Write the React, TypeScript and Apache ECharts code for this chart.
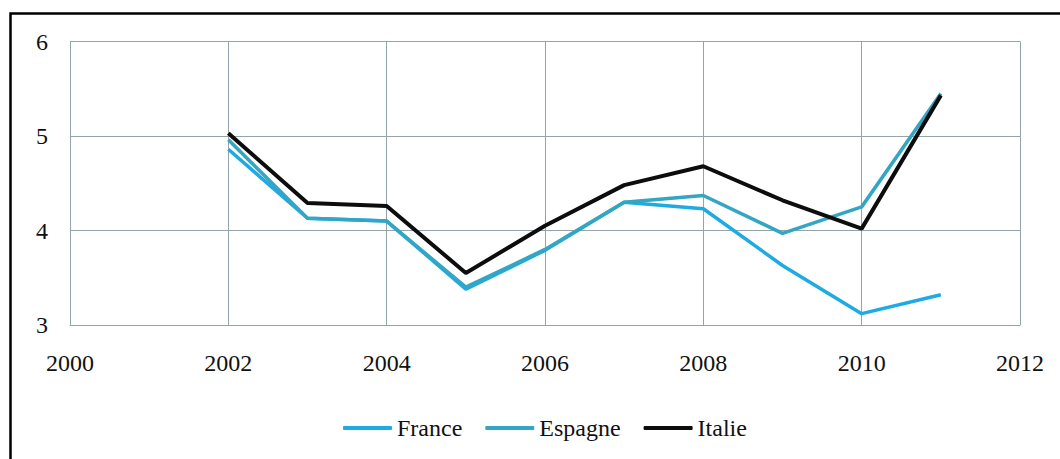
import React, { useEffect, useRef } from "react";
import * as echarts from "echarts";

const years = [2002, 2003, 2004, 2005, 2006, 2007, 2008, 2009, 2010, 2011];
const france = [4.86, 4.13, 4.1, 3.38, 3.79, 4.3, 4.23, 3.63, 3.12, 3.32];
const espagne = [4.96, 4.13, 4.1, 3.4, 3.8, 4.3, 4.37, 3.97, 4.25, 5.45];
const italie = [5.03, 4.29, 4.26, 3.55, 4.05, 4.48, 4.68, 4.32, 4.02, 5.43];
const seriesNames = ["France", "Espagne", "Italie"];
const seriesColors = ["#1eaae2", "#33a6c3", "#0d0d0d"];

const FONT = "Liberation Serif";
const GRID = "#93a5aa";

export default function App() {
  const ref = useRef<HTMLDivElement>(null);
  useEffect(() => {
    if (!ref.current) return;
    const chart = echarts.init(ref.current, undefined, { renderer: "svg" });
    const all = [france, espagne, italie];
    chart.setOption({
      animation: false,
      backgroundColor: "#ffffff",
      grid: { left: 70, top: 41.5, right: 40, bottom: 134 },
      graphic: [
        {
          type: "rect",
          shape: { x: 10.5, y: 13.5, width: 1080, height: 480 },
          style: { fill: "none", stroke: "#000", lineWidth: 2.5 },
          silent: true,
        },
      ],
      legend: {
        left: 338,
        top: 411,
        itemWidth: 49,
        itemHeight: 4,
        itemGap: 23,
        icon: "roundRect",
        textStyle: { fontFamily: FONT, fontSize: 24, color: "#111" },
        data: seriesNames,
      },
      xAxis: {
        type: "value",
        min: 2000,
        max: 2012,
        interval: 2,
        axisLine: { show: true, lineStyle: { color: GRID, width: 1 } },
        axisTick: { show: false },
        splitLine: { show: true, lineStyle: { color: GRID, width: 1 } },
        axisLabel: {
          margin: 26,
          fontFamily: FONT,
          fontSize: 24,
          color: "#111",
          formatter: (v: number) => String(v),
        },
      },
      yAxis: {
        type: "value",
        min: 3,
        max: 6,
        interval: 1,
        axisLine: { show: true, lineStyle: { color: GRID, width: 1 } },
        axisTick: { show: false },
        splitLine: { show: true, lineStyle: { color: GRID, width: 1 } },
        axisLabel: { margin: 22, fontFamily: FONT, fontSize: 24, color: "#111" },
      },
      series: seriesNames.map((name, i) => ({
        name,
        type: "line",
        data: years.map((y, j) => [y, all[i][j]]),
        showSymbol: false,
        symbol: "none",
        color: seriesColors[i],
        lineStyle: { color: seriesColors[i], width: i === 2 ? 4 : 3.5 },
        z: i === 2 ? 3 : i === 0 ? 2 : 2.5,
      })),
    });
    return () => chart.dispose();
  }, []);
  return (
    <div
      ref={ref}
      style={{ position: "fixed", left: 0, top: 0, width: 1060, height: 459 }}
    />
  );
}
